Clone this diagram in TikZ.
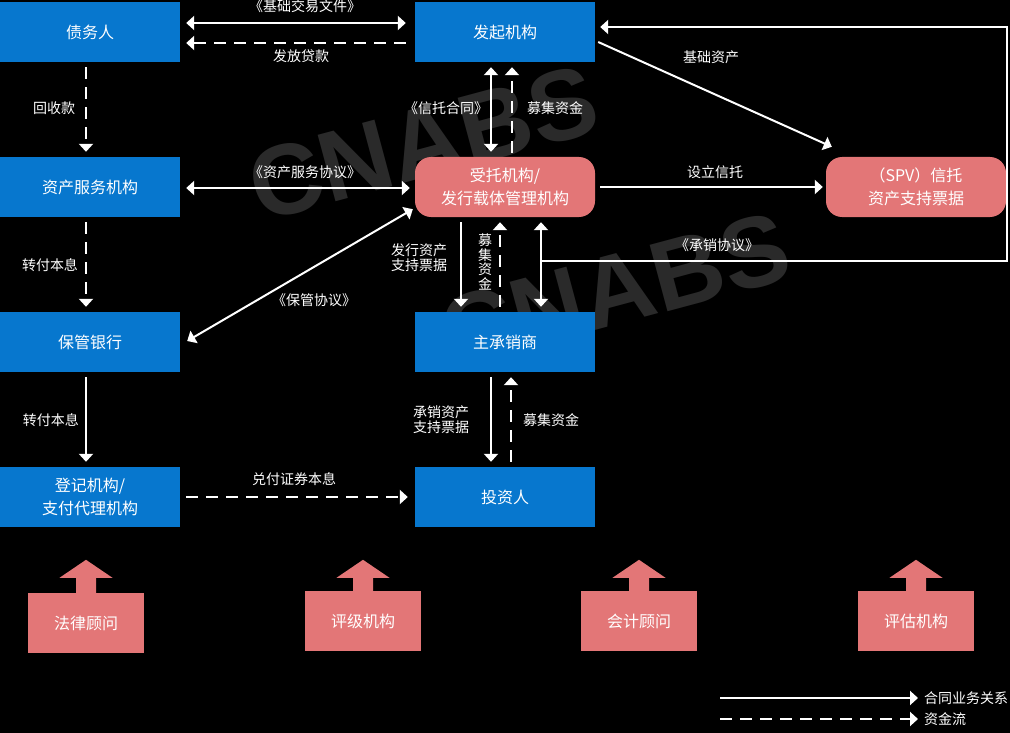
\documentclass[tikz,border=0pt]{standalone}
\usepackage{fontspec}
\setmainfont{Noto Sans CJK SC}
\newfontfamily\wmfont{Liberation Sans}
\usetikzlibrary{arrows.meta,calc}
\definecolor{boxblue}{RGB}{7,119,206}
\definecolor{boxpink}{RGB}{227,118,119}
\definecolor{wmgray}{RGB}{42,42,42}
\newcommand\upblock[2]{\fill[boxpink, shift={(#1.north)}] (-10,1) -- (-10,-#2) -- (-26.5,-#2) -- (0,{-#2-18}) -- (26.5,-#2) -- (10,-#2) -- (10,1) -- cycle;}
\begin{document}
\begin{tikzpicture}[x=1pt,y=-1pt,
  bluebox/.style={fill=boxblue, minimum width=180pt, minimum height=60pt, inner sep=0pt, text=white, font=\fontsize{16}{23}\selectfont, align=center},
  pinkbox/.style={bluebox, fill=boxpink, rounded corners=16pt},
  advbox/.style={fill=boxpink, minimum width=116pt, minimum height=60pt, inner sep=0pt, text=white, font=\fontsize{16}{20}\selectfont},
  lbl/.style={text=white, font=\fontsize{14}{15}\selectfont, inner sep=0pt, align=center},
  leg/.style={text=white, font=\fontsize{14}{15}\selectfont, inner sep=0pt, anchor=west},
  wm/.style={text=wmgray, font=\wmfont\bfseries\fontsize{100}{100}\selectfont, rotate=15, inner sep=0pt},
  flow/.style={white, line width=2pt},
  money/.style={flow, dash pattern=on 12pt off 8pt},
  tip/.style={-{Triangle[width=14pt,length=8pt]}},
  bi/.style={{Triangle[width=14pt,length=8pt]}-{Triangle[width=14pt,length=8pt]}}
]
\fill[black] (0,0) rectangle (1010,733);
\useasboundingbox (0,0) rectangle (1010,733);

% watermarks
\node[wm] (wm1) at (423,143) {CNABS};
\node[wm] (wm2) at (615,290) {CNABS};

% main nodes
\node[bluebox] (debt) at (90,32) {债务人};
\node[bluebox] (orig) at (505,32) {发起机构};
\node[bluebox] (serv) at (90,187) {资产服务机构};
\node[pinkbox] (trust) at (505,187) {受托机构/\\发行载体管理机构};
\node[pinkbox] (spv) at (916,187) {（SPV）信托\\资产支持票据};
\node[bluebox] (bank) at (90,342) {保管银行};
\node[bluebox] (under) at (505,342) {主承销商};
\node[bluebox] (reg) at (90,497) {登记机构/\\支付代理机构};
\node[bluebox] (inv) at (505,497) {投资人};

% debtor - originator
\draw[flow,bi] ($(debt.east)+(6,-9)$) -- ($(orig.west)+(-9,-9)$);
\node[lbl] (l1) at (305,6) {《基础交易文件》};
\draw[money,tip] ($(orig.west)+(-9,11)$) -- ($(debt.east)+(6,11)$);
\node[lbl] (l2) at (301,56) {发放贷款};

% debtor - servicer
\draw[money,tip] ($(debt.south)+(-4,5)$) -- ($(serv.north)+(-4,-5)$);
\node[lbl] (l3) at (54,108) {回收款};

% originator - trustee
\draw[flow,bi] ($(orig.south)+(-14,5)$) -- ($(trust.north)+(-14,-5)$);
\node[lbl] (l4) at (446,108) {《信托合同》};
\draw[money,tip] ($(trust.north)+(7,-4)$) -- ($(orig.south)+(7,5)$);
\node[lbl] (l5) at (555,108) {募集资金};

% originator - spv
\draw[flow,tip] ($(orig.east)+(3,10)$) -- ($(spv.north west)+(6,-10)$);
\node[lbl] (l6) at (711,57) {基础资产};

% underwriting agreement loop
\coordinate (j) at (541,261);
\coordinate (c1) at (1007,261);
\coordinate (c2) at (1007,27);
\draw[flow,bi] ($(trust.south)+(36,5)$) -- ($(under.north)+(36,-5)$);
\draw[flow,tip] (j) -- (c1) -- (c2) -- ($(orig.east)+(5,-5)$);
\node[lbl] (l7) at (717,245) {《承销协议》};

% trustee - spv
\draw[flow,tip] ($(trust.east)+(5,0)$) -- ($(spv.west)+(-3,0)$);
\node[lbl] (l8) at (715,172) {设立信托};

% servicer - trustee
\draw[flow,bi] ($(serv.east)+(6,1)$) -- ($(trust.west)+(-5,1)$);
\node[lbl] (l9) at (305,172) {《资产服务协议》};

% custodian - trustee
\draw[flow,bi] ($(bank.east)+(7,-1)$) -- ($(trust.south west)+(-2,-8)$);
\node[lbl] (l10) at (314,300) {《保管协议》};

% servicer - custodian
\draw[money,tip] ($(serv.south)+(-4,5)$) -- ($(bank.north)+(-4,-5)$);
\node[lbl] (l11) at (50,265) {转付本息};

% trustee - underwriter
\draw[flow,tip] ($(trust.south)+(-44,5)$) -- ($(under.north)+(-44,-5)$);
\node[lbl] (l12) at (419,258) {发行资产\\支持票据};
\node[lbl, font=\fontsize{14}{14.5}\selectfont] (l13) at (485,262) {募\\集\\资\\金};
\draw[money,tip] ($(under.north)+(-5,-5)$) -- ($(trust.south)+(-5,5)$);

% custodian - registrar
\draw[flow,tip] ($(bank.south)+(-4,5)$) -- ($(reg.north)+(-4,-5)$);
\node[lbl] (l14) at (51,420) {转付本息};

% underwriter - investor
\draw[flow,tip] ($(under.south)+(-14,5)$) -- ($(inv.north)+(-14,-5)$);
\draw[money,tip] ($(inv.north)+(6,-5)$) -- ($(under.south)+(6,5)$);
\node[lbl] (l15) at (441,420) {承销资产\\支持票据};
\node[lbl] (l16) at (551,420) {募集资金};

% registrar - investor
\draw[money,tip] ($(reg.east)+(6,0)$) -- ($(inv.west)+(-7,0)$);
\node[lbl] (l17) at (294,479) {兑付证券本息};

% advisers
\node[advbox] (law) at (86,623) {法律顾问};
\node[advbox] (rate) at (363,621) {评级机构};
\node[advbox] (acct) at (639,621) {会计顾问};
\node[advbox] (eval) at (916,621) {评估机构};
\upblock{law}{15}
\upblock{rate}{13}
\upblock{acct}{13}
\upblock{eval}{13}

% legend
\coordinate (ls1) at (720,698);
\coordinate (ls2) at (720,719);
\node[leg] (lt1) at (924,698) {合同业务关系};
\node[leg] (lt2) at (924,719) {资金流};
\draw[flow,tip] (ls1) -- ($(lt1.west)+(-6,0)$);
\draw[money,tip] (ls2) -- ($(lt2.west)+(-6,0)$);
\end{tikzpicture}
\end{document}
